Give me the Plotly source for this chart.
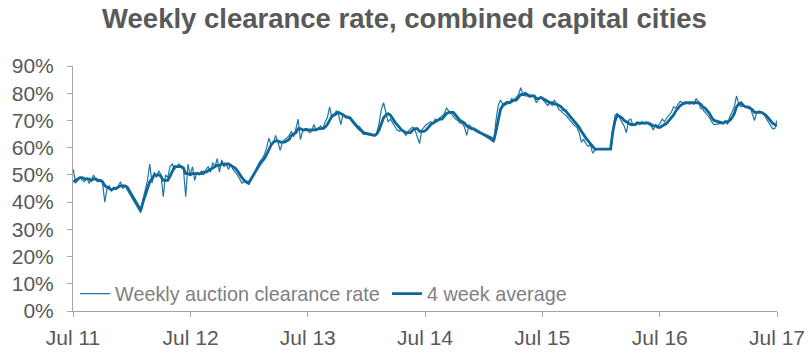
import pandas as pd
import plotly.graph_objects as go

N = None
# Weekly auction clearance rate (%), one value per week from 2 Jul 2011; None = holiday weeks
weekly_y1 = [52, 47, 48, 49, 48, 47.5, 49, 47, 48, 50, 48, 47.5, 48, 47, 40, 45, 46, 44, 45.5, 45,
             46, 47.5, 45, 46, 44.5, N, N, N, N, N, 36, 41, 44, 48, 54, 47, 51, 49, 51.5, 50,
             42, 50, 49, 53, 54, 52, 53, 54, 53, 52, 42, 54]
weekly_y2 = [50, 53, 48, 51, 50, 51.5, 50, 52, 53, 51, 54.5, 53, 56, 51, 55.5, 53, 54, 52, 54, 52,
             51, 50, 48.5, 47, 47.5, 47, 46.5, N, N, N, N, 55, 56, 57.5, 60, 63.5, 61, 62, 64.5, 62,
             59, 62, 63, 63.5, 64.5, 66, 64, 67, 70.5, 63, 66, 67]
weekly_y3 = [67, 65.5, 66, 68.5, 66.5, 67, 68, 67, 69.5, 71, 75, 71, 72.5, 73.5, 72, 68.5, 72.5, 71, 71.5, 70.5,
             69.5, 68.5, 67.5, 66.5, 66, 65, N, N, N, N, 64.5, 65.5, 69, 74, 76.5, 73, 69.5, 70.5, 69, 67.5,
             66.5, 66, 66.5, 65.5, 64.5, 66, 67, 67.5, 66.5, 64, 61.5, 66.5]
weekly_y4 = [67.5, 68.5, 69, 69.5, 69, 70.5, 70, 71, 71.5, 72.5, 74.5, 73.5, 72.5, 71.5, 70.5, 70, 69, 69, 67.5, 64.5,
             68.5, 67.5, 66.5, 66, 65.5, 65.5, N, N, N, N, 62.5, 62, 70, 75.5, 77.5, 76, 76.5, 77, 76.5, 78,
             77.5, 78.5, 79.5, 82, 79.5, 79, 79, 78.5, 79, 78.5, 76.5, 78]
weekly_y5 = [78.5, 77.5, 76.5, 75.5, 76.5, 75.5, 77.5, 75.5, 74, 73.5, 72.5, 72, 71, 70, 69, 68, 67.5, 65.5, 62, 63,
             61.5, 60.5, 61, 58, 59, 59.5, N, N, N, N, 59.5, 60, 66, 72, 72.5, 71, 70, 68, 65.5, 70,
             70.5, 68, 69, 69.5, 68.5, 69.5, 69, 69.5, 68.5, 68, 66.5, 68.5]
weekly_y6 = [68, 69, 70.5, 69.5, 71, 72, 73, 75, 74.5, 76, 77, 76.5, 76, 76.5, 76, 76.5, 76, 78, 77, 74.5,
             74, 73, 72, 71, 69.5, 68.5, N, N, N, 69, 70, 68.5, 71.5, 73, 75, 79, 76, 75, 75.5,
             75, 74.5, 75, 72, 70, 73, 73.5, 73, 72.5, 71, 69.5, 68, 67, 67, 70]

# 4 week average (%)
avg_y1 = [47.5, 48, 48.5, 49, 49, 48.5, 48.5, 48.5, 48, 48.5, 48.5, 48, 48, 47.5, 46, 45.5, 45, 44.5, 45, 45,
          45.5, 46, 46, 46, 45.5, N, N, N, N, N, 37, 40, 43, 45, 47.5, 48.5, 50, 50, 50, 49.5,
          48, 48, 48, 49.5, 51.5, 53, 53, 53, 53, 52.5, 50.5, 50.5]
avg_y2 = [50, 50.5, 50.5, 50.5, 50.5, 50.5, 51, 51, 51.5, 52, 52.5, 53, 53.5, 53.5, 54, 54, 54, 54, 53.5, 53,
          52.5, 51.5, 50, 49, 48, 47.5, 47, N, N, N, N, 54, 55, 56, 57.5, 59.5, 61, 62, 62.5, 62.5,
          62, 62, 62, 62.5, 63, 64.5, 65, 65.5, 67, 67, 66.5, 66.5]
avg_y3 = [66.5, 66.5, 66.5, 66.5, 66.5, 67, 67, 67, 67.5, 68.5, 70, 71.5, 72, 72.5, 73, 72.5, 72, 71.5, 71, 71,
          70, 69, 68, 67.5, 66.5, 65.5, N, N, N, N, 64.5, 65, 66.5, 68.5, 71, 72, 72.5, 72, 70.5, 69.5,
          68.5, 67.5, 66.5, 66, 65.5, 65.5, 65.5, 66.5, 67, 67, 66, 66]
avg_y4 = [66, 66.5, 67.5, 68.5, 69, 69.5, 70, 70.5, 70.5, 71.5, 72.5, 73, 73, 73, 72, 71, 70, 69.5, 69, 68,
          67.5, 67, 67, 66.5, 66, 65.5, N, N, N, N, 63.5, 62.5, 66, 70.5, 74, 75.5, 76, 76.5, 76.5, 77,
          77.5, 77.5, 78.5, 79.5, 79.5, 80, 79.5, 79, 79, 79, 78, 78]
avg_y5 = [78.5, 78, 77.5, 77, 76.5, 76.5, 76, 76, 75.5, 75, 74, 73.5, 72.5, 71.5, 70.5, 69.5, 68.5, 67.5, 66, 64.5,
          63.5, 62.5, 61.5, 60.5, 59.5, 59.5, N, N, N, N, 59.5, 59.5, 66, 70, 72, 71.5, 71, 70, 69.5, 69,
          68.5, 68.5, 68.5, 69, 69, 69, 69, 69, 69, 68.5, 68, 68]
avg_y6 = [67.5, 67.5, 68, 68.5, 69, 70, 71, 72, 73.5, 74.5, 75.5, 76, 76.5, 76.5, 76.5, 76.5, 76.5, 76.5, 76.5, 76,
          75, 74.5, 73.5, 72.5, 71, 70, N, N, N, 69, 69.5, 69.5, 70, 71, 72.5, 75, 76, 76.5, 75.5,
          75, 75, 74.5, 74, 73, 73, 73, 73, 72.5, 72, 71, 70, 69, 68.5, 68]

weekly = weekly_y1 + weekly_y2 + weekly_y3 + weekly_y4 + weekly_y5 + weekly_y6
avg4 = avg_y1 + avg_y2 + avg_y3 + avg_y4 + avg_y5 + avg_y6
weeks = pd.date_range("2011-07-02", periods=len(weekly), freq="7D")

tick_dates = ["2011-07-01", "2012-07-01", "2013-07-01", "2014-07-01", "2015-07-01", "2016-07-01", "2017-07-01"]
tick_labels = ["Jul 11", "Jul 12", "Jul 13", "Jul 14", "Jul 15", "Jul 16", "Jul 17"]

title_text = "Weekly clearance rate, combined capital cities"
FONT = "Liberation Sans, Arial, sans-serif"
GREY = "#595959"
AXIS = "#a6a6a6"
LEGFONT = dict(size=19.8, color="#7f7f7f", family=FONT)

fig = go.Figure()
fig.add_trace(go.Scatter(x=weeks, y=weekly, mode="lines", name="Weekly auction clearance rate",
                         line=dict(color="#1f74a6", width=1.2), connectgaps=True, legend="legend"))
fig.add_trace(go.Scatter(x=weeks, y=avg4, mode="lines", name="4 week average",
                         line=dict(color="#0e6796", width=2.8), connectgaps=True, legend="legend2"))

fig.update_layout(
    width=809, height=361,
    margin=dict(l=73, r=32, t=66, b=50, autoexpand=False),
    paper_bgcolor="white", plot_bgcolor="white",
    font=dict(family=FONT, color=GREY, size=20),
    title=dict(text="<b>" + title_text + "</b>", x=0.5, xanchor="center",
               y=1 - 18 / 361, yanchor="middle", yref="container",
               font=dict(size=27.5, color=GREY, family=FONT)),
    showlegend=True,
    legend=dict(orientation="h", x=0.003, xanchor="left", y=0.07, yanchor="middle",
                bgcolor="rgba(0,0,0,0)", font=LEGFONT, itemwidth=30),
    legend2=dict(orientation="h", x=0.446, xanchor="left", y=0.07, yanchor="middle",
                 bgcolor="rgba(0,0,0,0)", font=LEGFONT, itemwidth=30),
    xaxis=dict(type="date", range=["2011-07-01", "2017-07-01"], tickvals=tick_dates,
               ticktext=tick_labels, showgrid=False, zeroline=False, showline=True,
               linecolor=AXIS, linewidth=1, ticks="outside", ticklen=5, tickcolor=AXIS,
               tickfont=dict(size=21, color=GREY), automargin=False, ticklabelstandoff=3),
    yaxis=dict(range=[0, 90], dtick=10, ticksuffix="%", showgrid=False, zeroline=False,
               showline=True, linecolor=AXIS, linewidth=1, ticks="outside", ticklen=5,
               tickcolor=AXIS, tickfont=dict(size=21, color=GREY), automargin=False,
               ticklabelstandoff=9),
)

fig.write_html("out.html", config={"displayModeBar": False},
               post_script="document.body.style.margin='0';")
